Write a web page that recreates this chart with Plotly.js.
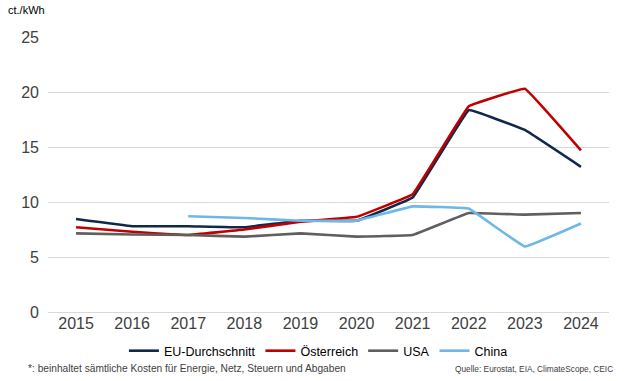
<!DOCTYPE html>
<html><head><meta charset="utf-8">
<script src="https://cdn.plot.ly/plotly-3.0.1.min.js"></script>
<style>html,body{margin:0;padding:0;background:#fff}#chart{width:641px;height:381px}</style>
</head><body><div id="chart"></div>
<script>
const years = ['2015','2016','2017','2018','2019','2020','2021','2022','2023','2024'];
const euAvg = [8.45, 7.8, 7.8, 7.7, 8.3, 8.3, 10.4, 18.35, 16.55, 13.2];
const austria = [7.7, 7.3, 7.0, 7.5, 8.2, 8.65, 10.7, 18.7, 20.3, 14.7];
const usa = [7.15, 7.05, 7.0, 6.85, 7.15, 6.85, 7.0, 9.0, 8.85, 9.0];
const china = [null, null, 8.7, 8.55, 8.3, 8.3, 9.6, 9.4, 5.95, 8.05];
const seriesNames = ['EU-Durchschnitt', 'Österreich', 'USA', 'China'];
const yTicks = [0, 5, 10, 15, 20, 25];

const colors = ['#10294a', '#c00000', '#5f5f5f', '#6fb7e6'];
const data = [euAvg, austria, usa, china].map((v, i) => ({
  x: years, y: v, name: seriesNames[i], type: 'scatter', mode: 'lines',
  connectgaps: false,
  line: {color: colors[i], width: 2.6, shape: 'spline', smoothing: 0.15}
}));

const layout = {
  width: 641, height: 381,
  margin: {l: 48, r: 32, t: 37, b: 69, autoexpand: false},
  paper_bgcolor: '#fff', plot_bgcolor: '#fff',
  font: {family: 'Liberation Sans, Arial, sans-serif', color: '#404040'},
  showlegend: true,
  legend: {orientation: 'h', x: 0.482, xanchor: 'center', y: -0.142, yanchor: 'middle',
    font: {size: 12.5, color: '#000'}, itemwidth: 30, tracegroupgap: 0},
  xaxis: {type: 'category', range: [-0.5, 9.5], showgrid: false, zeroline: false,
    showline: false, ticks: '', tickfont: {size: 16, color: '#404040'}, fixedrange: true},
  yaxis: {range: [0, 25], tickvals: yTicks, showgrid: true, gridcolor: '#d9d9d9',
    gridwidth: 1, zeroline: true, zerolinecolor: '#d9d9d9', zerolinewidth: 1,
    showline: false, ticks: '', tickfont: {size: 16, color: '#404040'},
    ticklabelstandoff: 8, fixedrange: true},
  annotations: [
    {text: 'ct./kWh', xref: 'paper', yref: 'paper', x: -0.074, y: 1.097,
     xanchor: 'left', yanchor: 'middle', showarrow: false,
     font: {size: 11, color: '#000'}},
    {text: '*: beinhaltet sämtliche Kosten für Energie, Netz, Steuern und Abgaben',
     xref: 'paper', yref: 'paper', x: -0.04, y: -0.206, xanchor: 'left',
     yanchor: 'middle', showarrow: false, font: {size: 10.2, color: '#404040'}},
    {text: 'Quelle: Eurostat, EIA, ClimateScope, CEIC', xref: 'paper', yref: 'paper',
     x: 1.01, y: -0.206, xanchor: 'right', yanchor: 'middle', showarrow: false,
     font: {size: 8.3, color: '#404040'}}
  ]
};
Plotly.newPlot('chart', data, layout, {displayModeBar: false, staticPlot: true});
</script></body></html>
